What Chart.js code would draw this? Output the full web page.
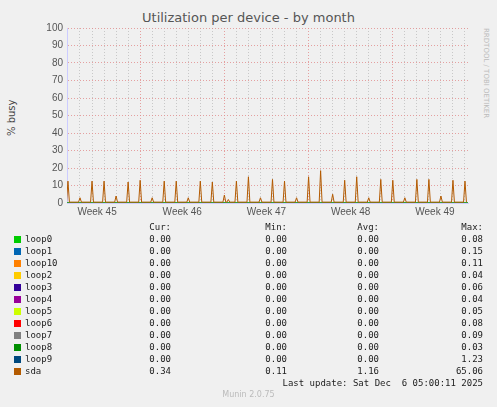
<!DOCTYPE html>
<html><head><meta charset="utf-8">
<script src="https://cdn.jsdelivr.net/npm/chart.js@4"></script>
<style>
body{margin:0;background:#f0f0f0;width:497px;height:407px;overflow:hidden;position:relative;font-family:"DejaVu Sans",sans-serif;}
#wrap{position:absolute;left:0;top:0;width:497px;height:240px;}
.t{position:absolute;white-space:pre;color:#333;}
.m{font-family:"DejaVu Sans Mono",monospace;font-size:9px;color:#222;}
.sq{position:absolute;width:7px;height:7px;}
</style></head><body>
<div class="t" style="left:0;width:497px;text-align:center;top:10px;font-size:13px;color:#555">Utilization per device - by month</div>
<div class="t" style="left:0;top:118px;transform:rotate(-90deg);transform-origin:0 0;top:136px;left:6px;font-size:10px;color:#444">% busy</div>
<div class="t" style="left:490px;top:28px;transform:rotate(90deg);transform-origin:0 0;font-size:7px;color:#bbb">RRDTOOL / TOBI OETIKER</div>
<div id="wrap"><canvas id="chart" width="497" height="240"></canvas></div>
<div id="legend"></div>
<div class="t" style="left:0;width:497px;text-align:center;top:390px;font-size:8px;color:#bbb">Munin 2.0.75</div>
<script>
// sda spikes, one per day (day 0 = first spike)
const spikeDays = [0,1,2,3,4,5,6,7,8,9,10,11,12,13,13.33,14,15,16,17,18,19,20,21,22,23,24,25,26,27,28,29,30,31,32,33];
const spikeValues = [12.5,3,12.5,12.5,4,12,13,3,12.5,12.5,3,12.5,12,4.5,2,12.5,15,3,13.5,12.5,3,15,18.5,5,13,15,3,13.5,13,3,13.5,13.5,4,13,12.5];
const baseValue = 0.5;
const weekLabels = ['Week 45','Week 46','Week 47','Week 48','Week 49'];
const weekCenters = [2.42,9.5,16.5,23.5,30.5];
const weekBounds = [6,13,20,27];
const yTicks = [0,5,10,15,20,25,30,35,40,45,50,55,60,65,70,75,80,85,90,95,100];

const devices = ['loop0','loop1','loop10','loop2','loop3','loop4','loop5','loop6','loop7','loop8','loop9','sda'];
const colors = ['#00cc00','#0066b3','#ff8000','#ffcc00','#330099','#990099','#ccff00','#ff0000','#808080','#008f00','#00487d','#b35a00'];
const cur = ['0.00','0.00','0.00','0.00','0.00','0.00','0.00','0.00','0.00','0.00','0.00','0.34'];
const mins = ['0.00','0.00','0.00','0.00','0.00','0.00','0.00','0.00','0.00','0.00','0.00','0.11'];
const avgs = ['0.00','0.00','0.00','0.00','0.00','0.00','0.00','0.00','0.00','0.00','0.00','1.16'];
const maxs = ['0.08','0.15','0.11','0.04','0.06','0.04','0.05','0.08','0.09','0.03','1.23','65.06'];

let sda = [];
spikeDays.forEach((d, i) => {
    sda.push({x: d - 0.12, y: baseValue});
    sda.push({x: d, y: spikeValues[i]});
    sda.push({x: d + 0.12, y: baseValue});
});

let datasets = devices.slice(0, 11).map((name, i) => ({
    label: name, data: [{x: -0.08, y: 0}, {x: 33.25, y: 0}],
    borderColor: colors[i], borderWidth: 1, pointRadius: 0, order: 2
}));
datasets.push({label: 'sda', data: sda, borderColor: colors[11], borderWidth: 1, pointRadius: 0, order: 1});

new Chart(document.getElementById('chart'), {
    type: 'line',
    data: {datasets: datasets},
    options: {
        responsive: false, animation: false,
        layout: {padding: {top: 28, right: 29, left: 0, bottom: 0}},
        plugins: {legend: {display: false}, tooltip: {enabled: false}},
        scales: {
            x: {
                type: 'linear', min: -0.08, max: 33.25,
                afterFit: s => { s.height = 37; },
                afterBuildTicks: s => {
                    let t = [];
                    for (let d = 0; d <= 33; d++) t.push({value: d});
                    weekCenters.forEach(c => t.push({value: c}));
                    t.sort((a, b) => a.value - b.value);
                    s.ticks = t;
                },
                ticks: {
                    autoSkip: false, maxRotation: 0, color: '#555', font: {size: 10},
                    callback: v => { let i = weekCenters.indexOf(v); return i >= 0 ? weekLabels[i] : ''; }
                },
                border: {color: '#ccccff', dash: [1, 2]},
                grid: {
                    drawTicks: false,
                    color: c => {
                        let v = c.tick ? c.tick.value : 0;
                        if (weekCenters.includes(v)) return 'rgba(0,0,0,0)';
                        return weekBounds.includes(v) ? 'rgba(225,140,140,0.8)' : 'rgba(190,190,190,0.8)';
                    },
                    lineWidth: 1
                }
            },
            y: {
                min: 0, max: 100,
                afterFit: s => { s.width = 67; },
                afterBuildTicks: s => { s.ticks = yTicks.map(v => ({value: v})); },
                ticks: {color: '#555', font: {size: 10}, padding: 4,
                    callback: v => v % 10 === 0 ? v : ''},
                border: {color: '#ccccff', dash: [1, 2]},
                grid: {drawTicks: false,
                    color: c => (c.tick && c.tick.value % 10 === 0) ? 'rgba(225,140,140,0.8)' : 'rgba(190,190,190,0.8)'}
            }
        }
    }
});

// legend table
const leg = document.getElementById('legend');
let html = '';
const colRight = [171, 287, 379, 483];
const heads = ['Cur:', 'Min:', 'Avg:', 'Max:'];
heads.forEach((h, j) => {
    html += `<div class="t m" style="top:222px;right:${497 - colRight[j]}px">${h}</div>`;
});
devices.forEach((name, i) => {
    let y = 234 + i * 12;
    html += `<div class="sq" style="left:14px;top:${y + 2}px;background:${colors[i]}"></div>`;
    html += `<div class="t m" style="left:25px;top:${y}px">${name}</div>`;
    [cur[i], mins[i], avgs[i], maxs[i]].forEach((v, j) => {
        html += `<div class="t m" style="top:${y}px;right:${497 - colRight[j]}px">${v}</div>`;
    });
});
html += `<div class="t m" style="top:378px;right:14px">Last update: Sat Dec  6 05:00:11 2025</div>`;
leg.innerHTML = html;
</script>
</body></html>
